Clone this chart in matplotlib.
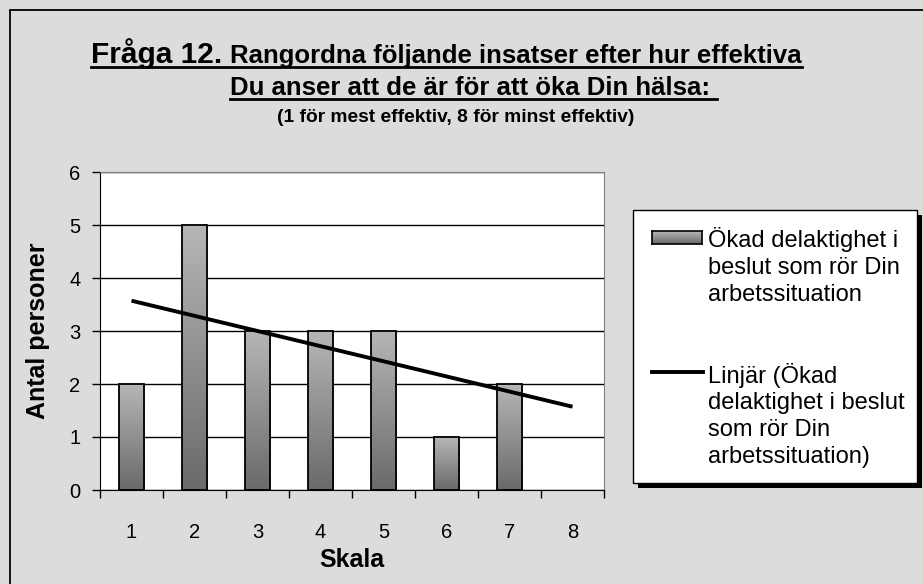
import numpy as np
import matplotlib
matplotlib.use('Agg')
import matplotlib.pyplot as plt
from matplotlib.patches import Rectangle
from matplotlib.lines import Line2D
from matplotlib.colors import LinearSegmentedColormap

# data (nobody answered 8)
skala = [1, 2, 3, 4, 5, 6, 7]
antal = [2, 5, 3, 3, 3, 1, 2]
x_cats = [1, 2, 3, 4, 5, 6, 7, 8]
x_labels = ['1', '2', '3', '4', '5', '6', '7', '8']
y_ticks = [0, 1, 2, 3, 4, 5, 6]

title_big = 'Fråga 12.'
title_rest = 'Rangordna följande insatser efter hur effektiva'
title_line2 = 'Du anser att de är för att öka Din hälsa: '
title_line3 = '(1 för mest effektiv, 8 för minst effektiv)'
legend_bar = 'Ökad delaktighet i\nbeslut som rör Din\narbetssituation'
legend_trend = 'Linjär (Ökad\ndelaktighet i beslut\nsom rör Din\narbetssituation)'

plt.rcParams['font.family'] = ['Liberation Sans', 'DejaVu Sans']

W, H = 923, 584
fig = plt.figure(figsize=(W / 100, H / 100), dpi=100)
fig.patch.set_facecolor('#dcdcdc')


def fx(px):
    return px / W


def fy(py):
    return 1 - py / H


# outer chart frame, runs off the right and bottom edge
fig.patches.append(Rectangle((fx(10), fy(H + 20)), fx(W + 20) - fx(10), fy(10) - fy(H + 20),
                             transform=fig.transFigure, fill=False, ec='black', lw=1.3))

grad_cmap = LinearSegmentedColormap.from_list('bargrad', ['#6a6a6a', '#b6b6b6'])
grad = np.linspace(0, 1, 256).reshape(-1, 1)

ax = fig.add_axes([fx(100), fy(490), fx(604) - fx(100), fy(172) - fy(490)])
ax.set_facecolor('white')

bw = 0.41
for xv, yv in zip(skala, antal):
    ax.imshow(grad, extent=(xv - bw / 2, xv + bw / 2, 0, yv), origin='lower',
              cmap=grad_cmap, aspect='auto', interpolation='bilinear', zorder=2)
ax.bar(skala, antal, width=bw, fill=False, edgecolor='black', lw=1.3, zorder=3)

# linear trend over the answered scale values, drawn across the full axis
coef = np.polyfit(skala, antal, 1)
xs = np.array([x_cats[0], x_cats[-1]])
ax.plot(xs, np.polyval(coef, xs), color='black', lw=2.8, zorder=4, solid_capstyle='butt')

ax.set_xlim(0.5, 8.5)
ax.set_ylim(0, 6)
ax.set_yticks(y_ticks)
ax.yaxis.grid(True, color='black', lw=1)
ax.set_axisbelow(True)

ax.set_xticks(np.arange(0.5, 9, 1))
ax.set_xticklabels([])
ax.set_xticks(x_cats, minor=True)
ax.set_xticklabels(x_labels, minor=True, fontsize=14.5)
ax.tick_params(axis='x', which='major', direction='out', length=6, width=1)
ax.tick_params(axis='x', which='minor', length=0, pad=24)
ax.tick_params(axis='y', direction='out', length=6, width=1, labelsize=14.5, pad=8)

for s in ['top', 'right']:
    ax.spines[s].set_color('#808080')
for s in ['left', 'bottom']:
    ax.spines[s].set_color('black')

fig.text(fx(38), fy(331), 'Antal personer', rotation=90, ha='center', va='center',
         fontsize=18, fontweight='bold')
fig.text(fx(352), fy(567), 'Skala', ha='center', va='baseline', fontsize=18, fontweight='bold')

# title, underlined the way the spreadsheet drew it
t1 = fig.text(fx(91), fy(63), title_big, fontsize=21.5, fontweight='bold', va='baseline')
fig.canvas.draw()
r = fig.canvas.get_renderer()
e1 = t1.get_window_extent(r)
t2 = fig.text((e1.x1 + 8) / W, fy(63), title_rest, fontsize=18.5, fontweight='bold', va='baseline')
e2 = t2.get_window_extent(r)
t3 = fig.text(e2.x0 / W, fy(95), title_line2, fontsize=18.5, fontweight='bold', va='baseline')
e3 = t3.get_window_extent(r)
fig.text(fx(277), fy(122), title_line3, fontsize=13.8, fontweight='bold', va='baseline')
fig.lines.append(Line2D([e1.x0 / W, e2.x1 / W], [fy(67), fy(67)], transform=fig.transFigure,
                        color='black', lw=2))
fig.lines.append(Line2D([e3.x0 / W, e3.x1 / W], [fy(99), fy(99)], transform=fig.transFigure,
                        color='black', lw=2))

# legend box with its hard black shadow
lx0, ly0, lx1, ly1 = 633, 210, 917, 483
fig.patches.append(Rectangle((fx(lx0 + 5), fy(ly1 + 5)), fx(lx1) - fx(lx0), fy(ly0) - fy(ly1),
                             transform=fig.transFigure, fc='black', ec='black', lw=0))
fig.patches.append(Rectangle((fx(lx0), fy(ly1)), fx(lx1) - fx(lx0), fy(ly0) - fy(ly1),
                             transform=fig.transFigure, fc='white', ec='black', lw=1))

hax = fig.add_axes([fx(652), fy(244), fx(702) - fx(652), fy(231) - fy(244)])
hax.set_zorder(5)
hax.imshow(grad, origin='lower', cmap=grad_cmap, aspect='auto', interpolation='bilinear')
hax.set_xticks([])
hax.set_yticks([])
for s in hax.spines.values():
    s.set_color('black')
    s.set_linewidth(1.2)

fig.lines.append(Line2D([fx(652), fx(703)], [fy(372), fy(372)], transform=fig.transFigure,
                        color='black', lw=2.8, zorder=6))

# multi-line baseline alignment uses the last line
fig.text(fx(708), fy(301), legend_bar, fontsize=17, va='baseline', ha='left', linespacing=1.28,
         zorder=6)
fig.text(fx(708), fy(463), legend_trend, fontsize=17, va='baseline', ha='left', linespacing=1.28,
         zorder=6)

fig.savefig('out.png', dpi=100, facecolor=fig.get_facecolor())
